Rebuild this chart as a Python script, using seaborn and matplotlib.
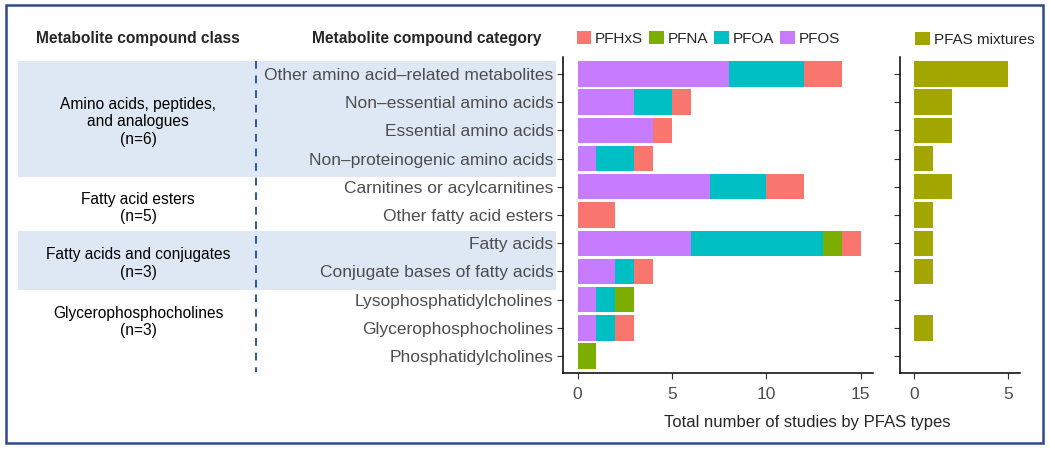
import matplotlib
matplotlib.use('Agg')
import matplotlib.pyplot as plt
import matplotlib.transforms as mtransforms
from matplotlib.patches import Patch, Rectangle
from matplotlib.lines import Line2D
import numpy as np
import seaborn as sns

categories = ['Other amino acid–related metabolites', 'Non–essential amino acids',
              'Essential amino acids', 'Non–proteinogenic amino acids',
              'Carnitines or acylcarnitines', 'Other fatty acid esters',
              'Fatty acids', 'Conjugate bases of fatty acids',
              'Lysophosphatidylcholines', 'Glycerophosphocholines',
              'Phosphatidylcholines']
pfos = [8, 3, 4, 1, 7, 0, 6, 2, 1, 1, 0]
pfoa = [4, 2, 0, 2, 3, 0, 7, 1, 1, 1, 0]
pfna = [0, 0, 0, 0, 0, 0, 1, 0, 1, 0, 1]
pfhxs = [2, 1, 1, 1, 2, 2, 1, 1, 0, 1, 0]
mixtures = [5, 2, 2, 1, 2, 1, 1, 1, 0, 1, 0]

class_labels = ['Amino acids, peptides,\nand analogues\n(n=6)', 'Fatty acid esters\n(n=5)',
                'Fatty acids and conjugates\n(n=3)', 'Glycerophosphocholines\n(n=3)']
class_rows = [4, 2, 2, 3]

pfas_names = ['PFHxS', 'PFNA', 'PFOA', 'PFOS']
pfas_colors = ['#F8766D', '#7CAE00', '#00BFC4', '#C77CFF']
mix_color = '#A3A500'

sns.set_style('white')
plt.rcParams['font.family'] = ['Liberation Sans', 'DejaVu Sans']

fig = plt.figure(figsize=(10.5, 4.51), dpi=100)
ax = fig.add_axes([0.5362, 0.1729, 0.2952, 0.7007])
ax2 = fig.add_axes([0.8571, 0.1729, 0.1143, 0.7007])

# stacked bars: draw cumulative totals from largest to smallest
a = np.array(pfos)
b = a + np.array(pfoa)
c = b + np.array(pfna)
d = c + np.array(pfhxs)
for vals, col in zip([d, c, b, a], pfas_colors):
    sns.barplot(x=vals, y=categories, color=col, saturation=1, width=0.9,
                orient='h', ax=ax, linewidth=0)

sns.barplot(x=mixtures, y=categories, color=mix_color, saturation=1, width=0.9,
            orient='h', ax=ax2, linewidth=0)

for axis in (ax, ax2):
    axis.set_facecolor('none')
    axis.set_ylim(len(categories) - 0.4, -0.6)
    axis.set_xlabel('')
    axis.set_ylabel('')
    for s in ['top', 'right']:
        axis.spines[s].set_visible(False)
    for s in ['left', 'bottom']:
        axis.spines[s].set_color('black')
        axis.spines[s].set_linewidth(1.1)
    axis.tick_params(axis='both', length=4, width=0.8, color='#333333',
                     labelcolor='#4D4D4D', labelsize=12.5, left=True, bottom=True)
    axis.tick_params(axis='x', pad=6)
    axis.tick_params(axis='y', pad=3)

ax.set_xlim(-0.77, 15.65)
ax.set_xticks([0, 5, 10, 15])
ax2.set_xlim(-0.75, 5.65)
ax2.set_xticks([0, 5])
ax2.set_yticklabels([])

# legends
h1 = [Patch(facecolor=c_, edgecolor='none') for c_ in pfas_colors]
ax.legend(h1, pfas_names, ncol=4, loc='lower left', bbox_to_anchor=(0.03, 1.02),
          frameon=False, fontsize=11, handlelength=0.95, handleheight=0.95,
          handletextpad=0.25, columnspacing=0.4, borderaxespad=0.1, borderpad=0.2)
ax2.legend([Patch(facecolor=mix_color, edgecolor='none')], ['PFAS mixtures'],
           loc='lower left', bbox_to_anchor=(0.09, 1.018), frameon=False, fontsize=11,
           handlelength=0.95, handleheight=0.95, handletextpad=0.25,
           borderaxespad=0.1, borderpad=0.2)

# left panel: class bands, labels, dashed divider
tr = mtransforms.blended_transform_factory(fig.transFigure, ax.transData)
label_shift = [0.2, 0.25, 0.22, -0.2]
start = 0
for i, (lab, n) in enumerate(zip(class_labels, class_rows)):
    top, bot = start - 0.45, start + n - 0.35
    if i % 2 == 0:
        fig.patches.append(Rectangle((18 / 1050, top), (556 - 18) / 1050, bot - top,
                                     transform=tr, facecolor='#DEE8F4', edgecolor='none',
                                     zorder=-1))
    fig.text(138 / 1050, start + (n - 1) / 2 + label_shift[i], lab, transform=tr,
             ha='center', va='center', fontsize=11.2, color='black', linespacing=1.2)
    start += n

fig.lines.append(Line2D([256 / 1050, 256 / 1050], [-0.45, len(categories) - 0.45],
                        transform=tr, color='#2F55A4', lw=1.4, ls=(0, (4, 3.5))))

fig.text(138 / 1050, 1 - 38 / 451, 'Metabolite compound class', ha='center',
         va='center', fontsize=11.2, fontweight='bold')
fig.text(427 / 1050, 1 - 38 / 451, 'Metabolite compound category', ha='center',
         va='center', fontsize=11.2, fontweight='bold')
fig.text(807 / 1050, 1 - 422 / 451, 'Total number of studies by PFAS types',
         ha='center', va='center', fontsize=12)

fig.patches.append(Rectangle((6 / 1050, 1 - 443 / 451), (1043 - 6) / 1050, 438 / 451,
                             transform=fig.transFigure, fill=False,
                             edgecolor='#2E4A8C', lw=1.8))

fig.savefig('out.png', dpi=100)
